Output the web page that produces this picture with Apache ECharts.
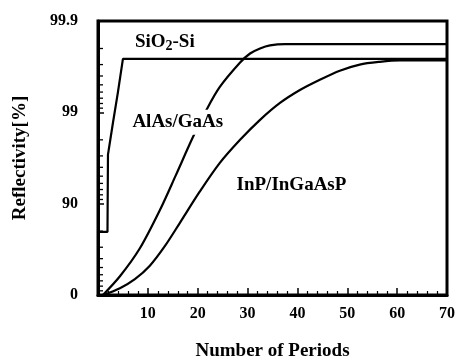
<!DOCTYPE html>
<html><head><meta charset="utf-8">
<script src="https://cdn.jsdelivr.net/npm/echarts@6/dist/echarts.min.js"></script>
<style>html,body{margin:0;padding:0;background:#fff}#c{width:457px;height:360px}</style>
</head><body><div id="c"></div>
<script>
const FONT = '"Liberation Serif","DejaVu Serif",serif';

// Number of periods vs reflectivity (%)
const sio2Periods = [0.4, 1.9, 2, 3, 4, 5, 70];
const sio2Refl    = [79.6, 79.6, 97.1, 98.7, 99.4, 99.74, 99.74];

const alasPeriods = [1, 4.4, 8.4, 12.4, 15.6, 19, 21.8, 24.4, 28.5, 30.5, 32.5, 34.5, 37.5, 70];
const alasRefl    = [0, 37.6, 69.2, 88.2, 95.1, 98.11, 99.07, 99.47, 99.715, 99.773, 99.80, 99.815, 99.821, 99.821];

const inpPeriods = [1, 4.4, 7.4, 10.4, 13.4, 16.4, 20.4, 24.4, 28.5, 32.5, 36.5, 40.5, 44.5, 48.5, 52.5, 56.5, 60.5, 70];
const inpRefl    = [0, 15.8, 32.9, 52.2, 70.8, 83.7, 92.6, 96.4, 98.0, 98.79, 99.21, 99.43, 99.56, 99.65, 99.70, 99.72, 99.73, 99.73];

// y-axis tick labels (reflectivity %) and minor tick positions
const yTickLabels = [0, 90, 99, 99.9];
const yMinorTicks = [10, 20, 30, 40, 50, 60, 70, 80, 91, 92, 93, 94, 95, 96, 97, 98,
                     99.1, 99.2, 99.3, 99.4, 99.5, 99.6, 99.7, 99.8];

// annotation labels: [period, reflectivity]
const labelSiO2 = [13.4, 99.83];
const labelAlAs = [16.0, 98.72];
const labelInP  = [38.8, 93.76];

const loss = r => +(100 - r).toFixed(4);
const pairs = (xs, rs) => xs.map((x, i) => [x, loss(rs[i])]);

const labelStyle = {
  show: true, position: 'inside', color: '#000', fontFamily: FONT,
  fontSize: 19, fontWeight: 'bold'
};

function lineSeries(name, xs, rs, lab, text, extra) {
  return Object.assign({
    name, type: 'line', data: pairs(xs, rs), symbol: 'none',
    lineStyle: { color: '#000', width: 2.2 }, z: 3,
    markPoint: {
      symbol: 'circle', symbolSize: 1, silent: true, z: 10,
      itemStyle: { color: 'rgba(0,0,0,0)' },
      label: Object.assign({}, labelStyle, text),
      data: [{ coord: [lab[0], loss(lab[1])] }]
    }
  }, extra || {});
}

const chart = echarts.init(document.getElementById('c'), null, { renderer: 'canvas' });
chart.setOption({
  animation: false,
  backgroundColor: '#fff',
  grid: { left: 98, right: 10, top: 21, bottom: 65, show: true, borderColor: '#000', borderWidth: 3,
          containLabel: false, outerBoundsMode: 'none' },
  xAxis: {
    type: 'value', min: 0, max: 70, interval: 10,
    name: 'Number of Periods', nameLocation: 'middle', nameGap: 47,
    nameTextStyle: { fontFamily: FONT, fontSize: 19, fontWeight: 'bold', color: '#000' },
    axisLine: { lineStyle: { color: '#000', width: 3 } },
    axisTick: { inside: true, length: 7, lineStyle: { color: '#000', width: 1.5 } },
    minorTick: { show: true, splitNumber: 5, length: 4, lineStyle: { color: '#000', width: 1.2 } },
    splitLine: { show: false },
    axisLabel: {
      margin: 11, color: '#000', fontFamily: FONT, fontSize: 16, fontWeight: 'bold',
      formatter: v => v === 0 ? '' : String(v)
    }
  },
  yAxis: {
    type: 'log', logBase: 10, min: loss(yTickLabels[3]), max: loss(yTickLabels[0]), inverse: true,
    name: 'Reflectivity[%]', nameLocation: 'middle', nameGap: 68,
    nameTextStyle: { fontFamily: FONT, fontSize: 19, fontWeight: 'bold', color: '#000' },
    axisLine: { lineStyle: { color: '#000', width: 3 } },
    axisTick: { inside: true, length: 6, lineStyle: { color: '#000', width: 1.5 } },
    splitLine: { show: false },
    axisLabel: {
      margin: 20, color: '#000', fontFamily: FONT, fontSize: 16, fontWeight: 'bold',
      formatter: v => String(+(100 - v).toFixed(1))
    }
  },
  series: [
    lineSeries('SiO2-Si', sio2Periods, sio2Refl, labelSiO2, {
      formatter: 'SiO{sub|2}-Si',
      rich: { sub: { fontFamily: FONT, fontSize: 14, fontWeight: 'bold', color: '#000', verticalAlign: 'bottom', padding: [9, 0, 0, 0] } }
    }),
    lineSeries('AlAs/GaAs', alasPeriods, alasRefl, labelAlAs, {
      formatter: 'AlAs/GaAs', backgroundColor: '#fff', padding: [3, 1, 3, 1]
    }, { smooth: 0.3 }),
    lineSeries('InP/InGaAsP', inpPeriods, inpRefl, labelInP, {
      formatter: 'InP/InGaAsP'
    }, { smooth: 0.3 }),
    {
      name: 'minorTicks', type: 'custom', silent: true, z: 4,
      data: yMinorTicks.map(r => [0, loss(r)]),
      renderItem: (params, api) => {
        const p = api.coord([0, api.value(1)]);
        return { type: 'line', shape: { x1: p[0], y1: p[1], x2: p[0] + 5, y2: p[1] },
                 style: { stroke: '#000', lineWidth: 1.3 } };
      }
    }
  ]
});
</script>
</body></html>
